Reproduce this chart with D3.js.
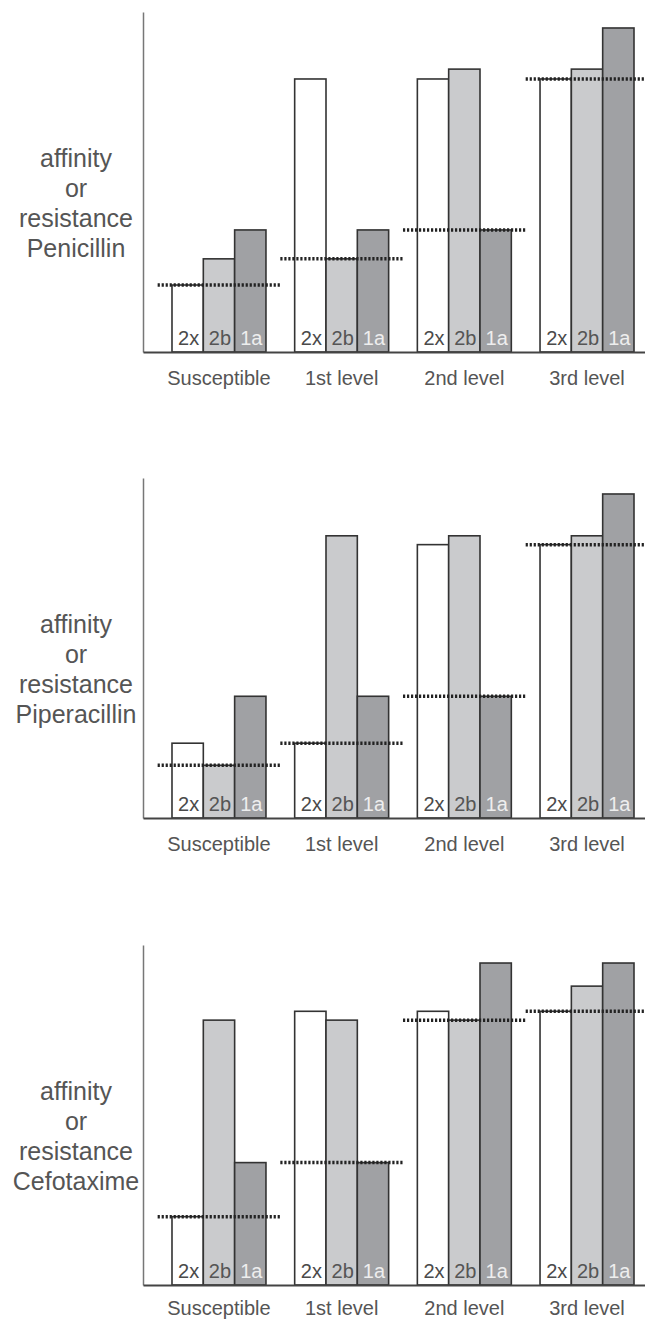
<!DOCTYPE html>
<html>
<head>
<meta charset="utf-8">
<script src="https://cdn.jsdelivr.net/npm/d3@7"></script>
<style>
  body { margin: 0; background: #fff; }
  svg { display: block; font-family: "Liberation Sans", Arial, Helvetica, sans-serif; }
</style>
</head>
<body>
<div id="chart"></div>
<script>
// categories and series
const categories = ['Susceptible', '1st level', '2nd level', '3rd level'];
const series = ['2x', '2b', '1a'];
const drugs = ['Penicillin', 'Piperacillin', 'Cefotaxime'];

// affinity / resistance values (0-100, relative to axis height)
const penicillin2x = [19.7, 80.3, 80.3, 80.3];
const penicillin2b = [27.4, 27.4, 83.2, 83.2];
const penicillin1a = [35.9, 35.9, 35.9, 95.3];
const penicillinLevel = [19.7, 27.4, 35.9, 80.3];

const piperacillin2x = [22.0, 22.0, 80.4, 80.4];
const piperacillin2b = [15.5, 83.0, 83.0, 83.0];
const piperacillin1a = [35.8, 35.8, 35.8, 95.3];
const piperacillinLevel = [15.5, 22.0, 35.8, 80.4];

const cefotaxime2x = [20.1, 80.5, 80.5, 80.5];
const cefotaxime2b = [77.9, 77.9, 77.9, 87.9];
const cefotaxime1a = [36.0, 36.0, 94.7, 94.7];
const cefotaximeLevel = [20.1, 36.0, 77.9, 80.5];

const panels = [
  { drug: drugs[0], values: [penicillin2x, penicillin2b, penicillin1a], level: penicillinLevel },
  { drug: drugs[1], values: [piperacillin2x, piperacillin2b, piperacillin1a], level: piperacillinLevel },
  { drug: drugs[2], values: [cefotaxime2x, cefotaxime2b, cefotaxime1a], level: cefotaximeLevel }
];

const width = 645;
const height = 1320;
const panelTops = [12, 478, 945];
const labelPads = [19, 19, 16];
const panelHeight = 340;
const axisX = 143;

const fills = { '2x': '#ffffff', '2b': '#cacbcd', '1a': '#a0a1a4' };
const labelColors = { '2x': '#4a4a4a', '2b': '#555', '1a': '#eeeeee' };

const svg = d3.select('#chart').append('svg')
  .attr('width', width)
  .attr('height', height);

const x = d3.scaleBand()
  .domain(categories)
  .range([axisX, width])
  .paddingInner(0.234)
  .paddingOuter(0.163)
  .align(0.725);

const xs = d3.scaleBand()
  .domain(series)
  .range([0, x.bandwidth()])
  .padding(0);

panels.forEach((p, pi) => {
  const top = panelTops[pi];
  const y = d3.scaleLinear()
    .domain([0, 100])
    .range([top + panelHeight, top]);
  const g = svg.append('g');

  // bars
  categories.forEach((c, ci) => {
    series.forEach((s, si) => {
      const v = p.values[si][ci];
      g.append('rect')
        .attr('x', x(c) + xs(s))
        .attr('y', y(v))
        .attr('width', xs.bandwidth())
        .attr('height', y(0) - y(v))
        .attr('fill', fills[s])
        .attr('stroke', '#333')
        .attr('stroke-width', 1.6);
      g.append('text')
        .attr('x', x(c) + xs(s) + xs.bandwidth() / 2 + 1)
        .attr('y', y(0) - 7)
        .attr('text-anchor', 'middle')
        .attr('font-size', 20)
        .attr('fill', labelColors[s])
        .text(s);
    });
  });

  // dotted level lines
  categories.forEach((c, ci) => {
    const cx = x(c) + x.bandwidth() / 2;
    g.append('line')
      .attr('x1', cx - x.step() / 2)
      .attr('x2', cx + x.step() / 2)
      .attr('y1', y(p.level[ci]))
      .attr('y2', y(p.level[ci]))
      .attr('stroke', '#222')
      .attr('stroke-width', 3.5)
      .attr('stroke-dasharray', '2.2 1.8');
  });

  // axes
  const yAxis = g.append('g')
    .attr('transform', `translate(${axisX},0)`)
    .call(d3.axisLeft(y).tickValues([]).tickSizeOuter(0));
  yAxis.select('.domain').attr('stroke', '#777').attr('stroke-width', 1.5);

  const xAxis = g.append('g')
    .attr('transform', `translate(0,${y(0)})`)
    .call(d3.axisBottom(x).tickSize(0).tickSizeOuter(0).tickPadding(labelPads[pi]));
  xAxis.select('.domain').attr('stroke', '#444').attr('stroke-width', 2);
  xAxis.selectAll('text')
    .attr('font-size', 20)
    .attr('font-family', '"Liberation Sans", Arial, sans-serif')
    .attr('fill', '#555');

  // y title
  const lines = ['affinity', 'or', 'resistance', p.drug];
  g.append('text')
    .attr('text-anchor', 'middle')
    .attr('font-size', 25)
    .attr('fill', '#555')
    .selectAll('tspan')
    .data(lines)
    .join('tspan')
    .attr('x', 76)
    .attr('y', (d, i) => top + 155 + i * 30)
    .text(d => d);
});
</script>
</body>
</html>
